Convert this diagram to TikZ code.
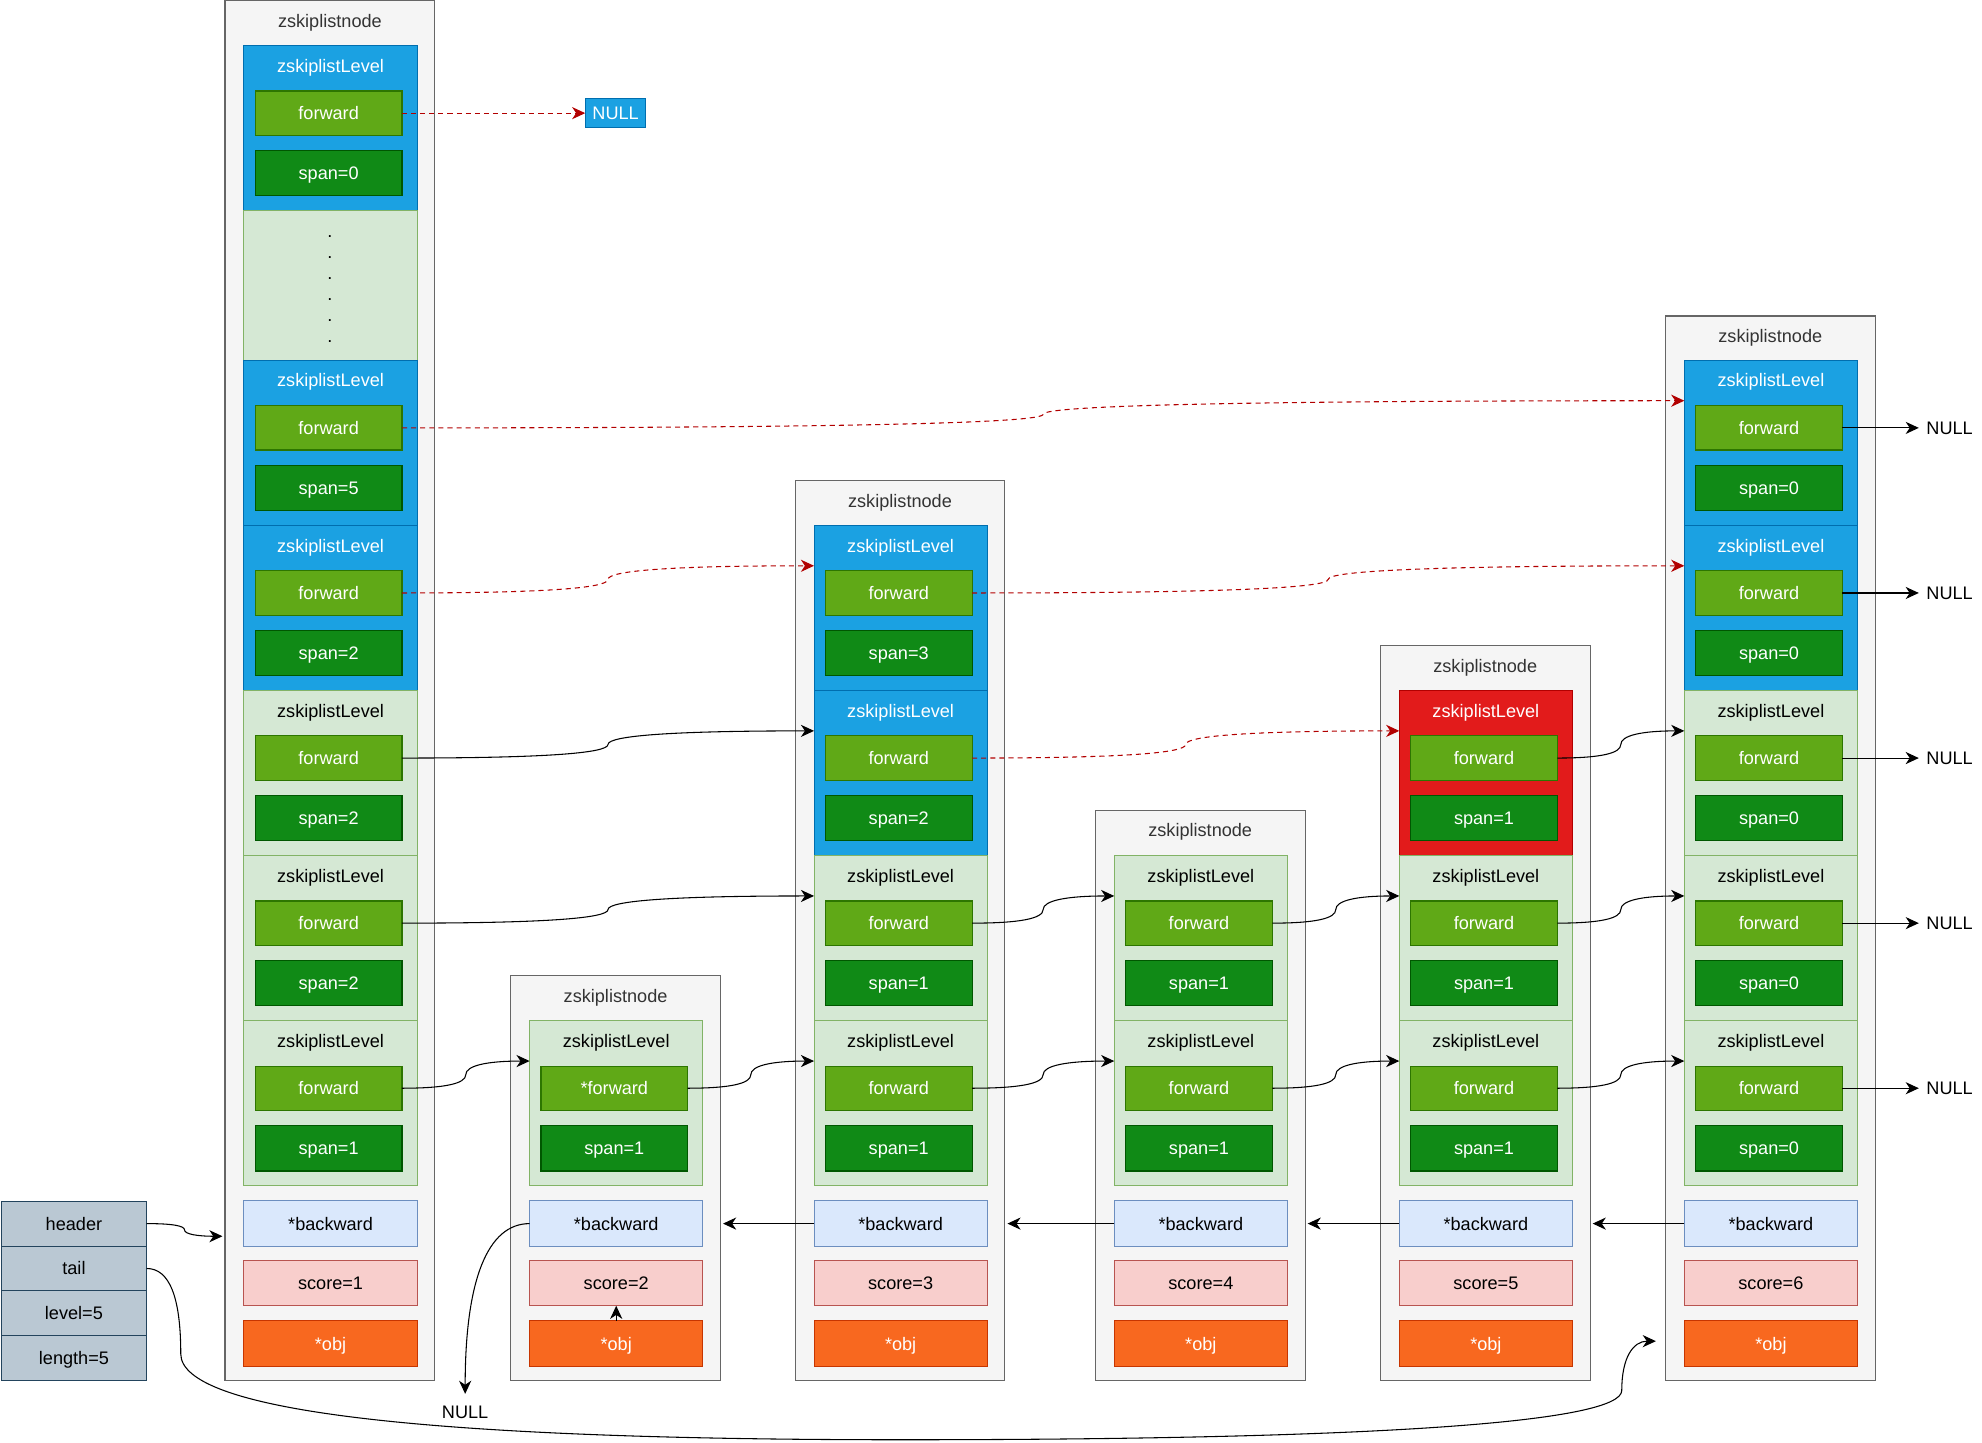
\documentclass[tikz,border=0pt]{standalone}
\usepackage{fontspec}
\setmainfont{Liberation Sans}
\usetikzlibrary{arrows.meta,calc}
\definecolor{ofill}{HTML}{F5F5F5}
\definecolor{odraw}{HTML}{666666}
\definecolor{otext}{HTML}{333333}
\definecolor{bfill}{HTML}{1BA1E2}
\definecolor{bdraw}{HTML}{006EAF}
\definecolor{gfill}{HTML}{D5E8D4}
\definecolor{gdraw}{HTML}{82B366}
\definecolor{rfill}{HTML}{E21B1B}
\definecolor{rdraw}{HTML}{B20000}
\definecolor{ffill}{HTML}{60A917}
\definecolor{fdraw}{HTML}{2D7600}
\definecolor{sfill}{HTML}{108A16}
\definecolor{sdraw}{HTML}{005700}
\definecolor{kfill}{HTML}{DAE8FC}
\definecolor{kdraw}{HTML}{6C8EBF}
\definecolor{cfill}{HTML}{F8CECC}
\definecolor{cdraw}{HTML}{B85450}
\definecolor{jfill}{HTML}{F8681F}
\definecolor{jdraw}{HTML}{C73500}
\definecolor{hfill}{HTML}{BAC8D3}
\definecolor{hdraw}{HTML}{23445D}
\definecolor{dred}{HTML}{B20000}

% curved orthogonal connector (draw.io style): #1 style, #2 from, #3 to
\newcommand\curveconn[3]{\draw[#1] let \p1=(#2), \p2=(#3) in (\p1) .. controls ({\x1+(\x2-\x1)/3},\y1) and ({(\x1+\x2)/2},{(\y1+\y2)/2+(\y1-\y2)/3}) .. ({(\x1+\x2)/2},{(\y1+\y2)/2}) .. controls ({(\x1+\x2)/2},{(\y1+\y2)/2+(\y2-\y1)/3}) and ({\x2-(\x2-\x1)/3},\y2) .. (\p2);}

% #1 node id, #2 level id, #3 x left, #4 y top, #5 colour, #6 span text, #7 forward text
\newcommand\zlevel[7]{%
  \node[lvl-#5, anchor=north west] (#1-#2) at (#3,#4) {};
  \node[lt-#5] (#1-#2-t) at ({#3+68.5},{#4+16}) {zskiplistLevel};
  \node[fwdbox] (#1-#2-f) at ({#3+67},{#4+53.5}) {#7};
  \node[spanbox] (#1-#2-s) at ({#3+67},{#4+101}) {#6};
  \coordinate (#1-#2-in) at (#3,{#4+32});
}
% #1 id, #2 x left, #3 y top, #4 score
\newcommand\zsnode[4]{%
  \node[outerbox, minimum height={(1092-#3)*0.25mm}] (#1) at (#2,#3) {};
  \node[ttl] (#1-t) at ({#2+83},{#3+16}) {zskiplistnode};
  \node[backbox] (#1-back) at ({#2+83.5},968) {*backward};
  \node[scorebox] (#1-score) at ({#2+83.5},1015) {score=#4};
  \node[objbox] (#1-obj) at ({#2+83.5},1063) {*obj};
}

\begin{document}
\begin{tikzpicture}[x=0.25mm, y=-0.25mm,
  font=\fontsize{10.2}{11.8}\selectfont, line width=0.6pt,
  box/.style={rectangle, draw, inner sep=0pt, outer sep=0pt, text height=0.73em, text depth=0pt},
  outerbox/.style={box, fill=ofill, draw=odraw, minimum width=41.5mm, anchor=north west},
  lvlbase/.style={box, minimum width=34.25mm, minimum height=32.65mm},
  lvl-blue/.style={lvlbase, fill=bfill, draw=bdraw},
  lvl-green/.style={lvlbase, fill=gfill, draw=gdraw},
  lvl-red/.style={lvlbase, fill=rfill, draw=rdraw},
  txt/.style={inner sep=0pt, text height=0.73em, text depth=0pt},
  lt-blue/.style={txt, text=white},
  lt-green/.style={txt, text=black},
  lt-red/.style={txt, text=white},
  ttl/.style={txt, text=otext},
  fwdbox/.style={box, fill=ffill, draw=fdraw, text=white, minimum width=29mm, minimum height=8.75mm},
  spanbox/.style={box, fill=sfill, draw=sdraw, text=white, minimum width=29mm, minimum height=9mm},
  fieldbox/.style={box, minimum width=34.25mm, minimum height=9mm},
  backbox/.style={fieldbox, fill=kfill, draw=kdraw},
  scorebox/.style={fieldbox, fill=cfill, draw=cdraw},
  objbox/.style={fieldbox, fill=jfill, draw=jdraw, text=white},
  hdrbox/.style={box, fill=hfill, draw=hdraw, minimum width=28.75mm, minimum height=8.875mm},
  nullbox/.style={box, fill=bfill, draw=bdraw, text=white, minimum width=12mm, minimum height=5.75mm},
  nulltxt/.style={txt, inner xsep=4pt},
  conn/.style={draw=black, line width=0.6pt, -{Stealth[length=2.6mm, width=2.4mm, inset=0.8mm]}},
  dconn/.style={conn, draw=dred, dash pattern=on 1mm off 0.8mm}]
\useasboundingbox (0,0) rectangle (1568,1141);

% list header struct
\node[hdrbox] (hdr-header) at (58.5,968) {header};
\node[hdrbox] (hdr-tail) at (58.5,1003.5) {tail};
\node[hdrbox] (hdr-level) at (58.5,1039) {level=5};
\node[hdrbox] (hdr-length) at (58.5,1074.5) {length=5};

% node 1 (header node)
\zsnode{n1}{178}{0.5}{1}
\zlevel{n1}{L0}{193}{36}{blue}{span=0}{forward}
\node[lvl-green, anchor=north west, minimum height=29.6mm] (n1-dots) at (193,166.6) {};
\node[align=center, inner sep=0pt] (n1-dtxt) at (261,228.5) {.\\.\\.\\.\\.\\.};
\zlevel{n1}{L5}{193}{285}{blue}{span=5}{forward}
\zlevel{n1}{L4}{193}{415.6}{blue}{span=2}{forward}
\zlevel{n1}{L3}{193}{546.2}{green}{span=2}{forward}
\zlevel{n1}{L2}{193}{676.8}{green}{span=2}{forward}
\zlevel{n1}{L1}{193}{807.4}{green}{span=1}{forward}

% node 2
\zsnode{n2}{404}{772}{2}
\zlevel{n2}{L1}{419}{807.4}{green}{span=1}{*forward}

% node 3
\zsnode{n3}{629}{380}{3}
\zlevel{n3}{L4}{644}{415.6}{blue}{span=3}{forward}
\zlevel{n3}{L3}{644}{546.2}{blue}{span=2}{forward}
\zlevel{n3}{L2}{644}{676.8}{green}{span=1}{forward}
\zlevel{n3}{L1}{644}{807.4}{green}{span=1}{forward}

% node 4
\zsnode{n4}{866.5}{641}{4}
\zlevel{n4}{L2}{881.5}{676.8}{green}{span=1}{forward}
\zlevel{n4}{L1}{881.5}{807.4}{green}{span=1}{forward}

% node 5
\zsnode{n5}{1092}{511}{5}
\zlevel{n5}{L3}{1107}{546.2}{red}{span=1}{forward}
\zlevel{n5}{L2}{1107}{676.8}{green}{span=1}{forward}
\zlevel{n5}{L1}{1107}{807.4}{green}{span=1}{forward}

% node 6
\zsnode{n6}{1317.5}{250}{6}
\zlevel{n6}{L5}{1332.5}{285}{blue}{span=0}{forward}
\zlevel{n6}{L4}{1332.5}{415.6}{blue}{span=0}{forward}
\zlevel{n6}{L3}{1332.5}{546.2}{green}{span=0}{forward}
\zlevel{n6}{L2}{1332.5}{676.8}{green}{span=0}{forward}
\zlevel{n6}{L1}{1332.5}{807.4}{green}{span=0}{forward}

% NULL targets
\node[nullbox] (null1) at (487,89.5) {NULL};
\node[txt, inner ysep=6.2pt] (null2) at (368,1117) {NULL};
\foreach \k in {L5,L4,L3,L2,L1}{
  \node[nulltxt, anchor=west] (n6-\k-null) at ($(n6-\k-f.east)+(60.5,0)$) {NULL};
  \draw[conn] (n6-\k-f.east) -- (n6-\k-null.west);
}

% dashed (search path) connectors
\draw[dconn] (n1-L0-f.east) -- (null1.west);
\curveconn{dconn}{n1-L5-f.east}{n6-L5-in}
\curveconn{dconn}{n1-L4-f.east}{n3-L4-in}
\curveconn{dconn}{n3-L4-f.east}{n6-L4-in}
\curveconn{dconn}{n3-L3-f.east}{n5-L3-in}

% solid forward connectors
\curveconn{conn}{n1-L3-f.east}{n3-L3-in}
\curveconn{conn}{n1-L2-f.east}{n3-L2-in}
\curveconn{conn}{n1-L1-f.east}{n2-L1-in}
\curveconn{conn}{n2-L1-f.east}{n3-L1-in}
\curveconn{conn}{n3-L2-f.east}{n4-L2-in}
\curveconn{conn}{n3-L1-f.east}{n4-L1-in}
\curveconn{conn}{n4-L2-f.east}{n5-L2-in}
\curveconn{conn}{n4-L1-f.east}{n5-L1-in}
\curveconn{conn}{n5-L3-f.east}{n6-L3-in}
\curveconn{conn}{n5-L2-f.east}{n6-L2-in}
\curveconn{conn}{n5-L1-f.east}{n6-L1-in}

% header / tail pointers
\coordinate (n1-hin) at (176,978);
\curveconn{conn}{hdr-header.east}{n1-hin}
\coordinate (n6-tin) at (1310,1061);
\draw[conn] (hdr-tail.east) .. controls (134,1003.5) and (143,1026) .. (143,1071)
  .. controls (143,1116) and (333,1139) .. (713,1139)
  .. controls (1093,1139) and (1283,1125) .. (1283,1100)
  .. controls (1283,1074) and (1292,1061) .. (n6-tin);

% backward pointers
\draw[conn] (n2-back.west) .. controls +(-33.3,0) and +(0,-90) .. (null2.north);
\draw[conn, shorten >=0.5mm] (n3-back.west) -- (n3-back.west -| n2.east);
\draw[conn, shorten >=0.5mm] (n4-back.west) -- (n4-back.west -| n3.east);
\draw[conn, shorten >=0.5mm] (n5-back.west) -- (n5-back.west -| n4.east);
\draw[conn, shorten >=0.5mm] (n6-back.west) -- (n6-back.west -| n5.east);
\draw[conn] (n2-obj.north) -- (n2-score.south);
\end{tikzpicture}
\end{document}
